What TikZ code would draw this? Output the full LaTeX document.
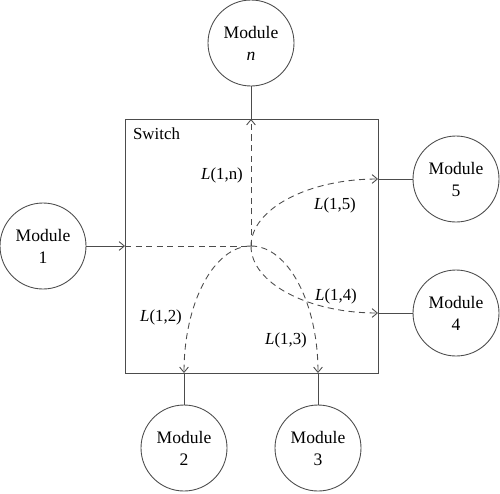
\documentclass[tikz,border=0pt]{standalone}
\usepackage{fontspec}
\setmainfont{Liberation Serif}
\usetikzlibrary{arrows.meta}

\tikzset{
	>={Straight Barb[length=3pt,width=5pt]},
	wire/.style={draw=black!70, line width=0.5pt},
	link/.style={wire, dash pattern=on 3.5pt off 2.5pt},
	quarter/.style={out looseness=0.66, in looseness=1.25},
	module/.style={wire, circle, minimum size=1.72cm, inner sep=0pt, align=center, font=\fontsize{10}{12.5}\selectfont},
	lab/.style={font=\fontsize{9.6}{11}\selectfont, inner sep=1pt},
}

\begin{document}
\begin{tikzpicture}
	\useasboundingbox (0,0) rectangle (10,9.86);

	\draw [wire] (2.50,2.40) rectangle (7.56,7.48);
	\node (S) [lab, anchor=west] at (2.62,7.18) {Switch};

	\coordinate (hub) at (5.02,4.94);
	\coordinate (p1) at (2.50,4.94);
	\coordinate (pn) at (5.02,7.48);
	\coordinate (p5) at (7.56,6.28);
	\coordinate (p4) at (7.56,3.60);
	\coordinate (p2) at (3.68,2.40);
	\coordinate (p3) at (6.36,2.40);

	\node (M1) [module] at (0.86,4.94) {Module\\1};
	\node (Mn) [module] at (5.02,9.00) {Module\\\textit{n}};
	\node (M5) [module] at (9.12,6.28) {Module\\5};
	\node (M4) [module] at (9.12,3.60) {Module\\4};
	\node (M2) [module] at (3.68,0.90) {Module\\2};
	\node (M3) [module] at (6.36,0.90) {Module\\3};

	\draw [->, wire] (M1) -- (p1);
	\draw [wire] (Mn) -- (pn);
	\draw [wire] (p5) -- (M5);
	\draw [wire] (p4) -- (M4);
	\draw [wire] (p2) -- (M2);
	\draw [wire] (p3) -- (M3);

	\draw [link] (p1) -- (hub);
	\draw [->, link] (hub) -- (pn);
	\draw [->, link, quarter] (hub) to [out=90, in=180] (p5);
	\draw [->, link, quarter] (hub) to [out=270, in=180] (p4);
	\draw [->, link, quarter] (hub) to [out=0, in=90] (p3);
	\draw [->, link, quarter] (hub) to [out=180, in=90] (p2);

	\node (Ln) [lab] at (4.44,6.36) {\textit{L}(1,n)};
	\node (L5) [lab] at (6.70,5.76) {\textit{L}(1,5)};
	\node (L4) [lab] at (6.72,3.94) {\textit{L}(1,4)};
	\node (L2) [lab] at (3.22,3.52) {\textit{L}(1,2)};
	\node (L3) [lab] at (5.72,3.06) {\textit{L}(1,3)};
\end{tikzpicture}
\end{document}
